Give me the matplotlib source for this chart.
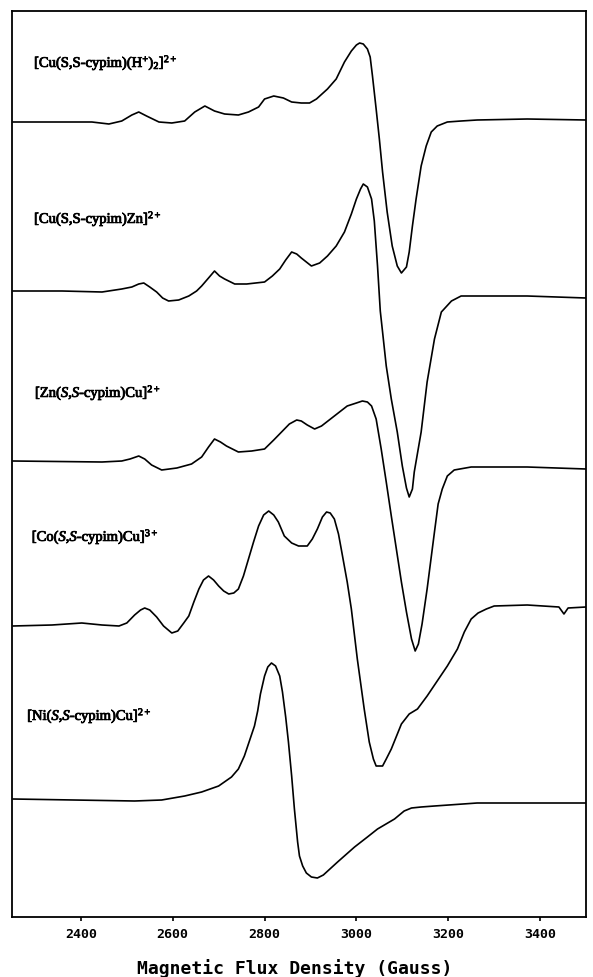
import matplotlib
matplotlib.use("Agg")
import matplotlib.pyplot as plt
import matplotlib.patheffects as pe

plt.rcParams['mathtext.fontset'] = 'custom'
plt.rcParams['mathtext.rm'] = 'Liberation Serif'
plt.rcParams['mathtext.it'] = 'Liberation Serif:italic'
plt.rcParams['mathtext.bf'] = 'Liberation Serif:bold'

# ---- data (field in Gauss, derivative signal in arbitrary units relative to baseline) ----
names = [
    r"[Cu(S,S-cypim)(H$^{+}$)$_{2}$]$^{2+}$",
    r"[Cu(S,S-cypim)Zn]$^{2+}$",
    r"[Zn($\mathit{S}$,$\mathit{S}$-cypim)Cu]$^{2+}$",
    r"[Co($\mathit{S}$,$\mathit{S}$-cypim)Cu]$^{3+}$",
    r"[Ni($\mathit{S}$,$\mathit{S}$-cypim)Cu]$^{2+}$",
]
offsets = [795, 626, 456, 291, 118]
label_field = [2298, 2298, 2300, 2293, 2283]
label_level = [854, 698, 524, 380, 201]

field1 = [2252, 2359, 2424, 2461, 2489, 2511, 2526, 2543, 2570, 2598, 2626, 2648,
          2670, 2691, 2713, 2743, 2765, 2787, 2800, 2820, 2841, 2859, 2880, 2898,
          2913, 2937, 2956, 2974, 2989, 3000, 3007, 3015, 3024, 3030, 3035, 3043,
          3050, 3057, 3067, 3078, 3089, 3098, 3109, 3115, 3122, 3130, 3141, 3152,
          3163, 3176, 3198, 3228, 3263, 3372, 3500]
signal1 = [0, 0, 0, -2, 1, 7, 10, 6, 0, -1, 1, 10,
           16, 11, 8, 7, 10, 15, 23, 26, 24, 20, 19, 19,
           23, 33, 43, 60, 71, 77, 79, 78, 73, 65, 46, 13,
           -17, -50, -90, -124, -144, -151, -145, -130, -104, -77, -44, -24,
           -10, -4, 0, 1, 2, 3, 2]

field2 = [2252, 2359, 2446, 2489, 2511, 2526, 2537, 2550, 2565, 2578, 2591, 2613,
          2635, 2652, 2663, 2678, 2691, 2702, 2713, 2735, 2761, 2800, 2817, 2833,
          2846, 2859, 2870, 2880, 2891, 2902, 2920, 2937, 2956, 2974, 2989, 3000,
          3009, 3015, 3024, 3033, 3039, 3046, 3052, 3057, 3065, 3076, 3089, 3100,
          3109, 3115, 3122, 3126, 3141, 3154, 3170, 3185, 3207, 3228, 3372, 3500]
signal2 = [0, 0, -1, 2, 4, 7, 8, 4, -1, -7, -10, -9,
           -5, 0, 5, 13, 20, 15, 12, 7, 7, 9, 15, 22,
           31, 39, 37, 33, 29, 25, 28, 35, 45, 59, 77, 92,
           102, 107, 104, 92, 70, 25, -20, -41, -75, -108, -141, -175,
           -197, -206, -198, -181, -141, -91, -48, -21, -10, -5, -5, -7]

field3 = [2252, 2446, 2489, 2507, 2526, 2539, 2554, 2576, 2609, 2641, 2663, 2678,
          2691, 2704, 2717, 2743, 2772, 2800, 2820, 2837, 2854, 2870, 2880, 2893,
          2909, 2924, 2952, 2980, 3000, 3013, 3024, 3033, 3043, 3054, 3065, 3076,
          3087, 3098, 3109, 3120, 3128, 3135, 3143, 3154, 3170, 3178, 3187, 3198,
          3213, 3250, 3372, 3500]
signal3 = [0, -1, 0, 2, 5, 2, -4, -9, -7, -3, 4, 14,
           22, 19, 15, 9, 10, 12, 21, 29, 37, 41, 40, 36,
           32, 35, 45, 55, 58, 60, 59, 55, 42, 12, -21, -55,
           -88, -121, -151, -178, -190, -183, -163, -128, -71, -43, -28, -15,
           -9, -6, -6, -8]

field4 = [2252, 2337, 2402, 2446, 2483, 2500, 2517, 2530, 2539, 2550, 2565, 2580,
          2598, 2611, 2624, 2635, 2646, 2657, 2667, 2678, 2689, 2700, 2711, 2722,
          2733, 2743, 2754, 2765, 2776, 2787, 2798, 2809, 2820, 2830, 2843, 2859,
          2874, 2893, 2904, 2915, 2926, 2935, 2943, 2952, 2961, 2967, 2980, 2989,
          3002, 3017, 3028, 3037, 3043, 3057, 3065, 3076, 3098, 3115, 3133, 3154,
          3176, 3198, 3220, 3235, 3250, 3265, 3283, 3300, 3372, 3441, 3452, 3461,
          3500]
signal4 = [0, 1, 3, 1, 0, 3, 11, 16, 18, 16, 9, 0,
           -7, -5, 3, 10, 24, 37, 46, 50, 46, 40, 35, 32,
           33, 37, 50, 67, 84, 100, 111, 115, 111, 104, 90, 83,
           80, 80, 87, 97, 109, 114, 113, 107, 92, 77, 44, 17,
           -33, -83, -116, -133, -140, -140, -133, -123, -98, -88, -83, -70,
           -55, -40, -23, -6, 7, 13, 17, 20, 21, 19, 12, 18,
           19]

field5 = [2252, 2517, 2576, 2626, 2663, 2700, 2728, 2743, 2756, 2767, 2778, 2785,
          2791, 2800, 2807, 2815, 2824, 2833, 2839, 2846, 2852, 2859, 2865, 2872,
          2876, 2883, 2891, 2902, 2915, 2928, 2959, 2996, 3024, 3046, 3083, 3104,
          3120, 3141, 3170, 3263, 3500]
signal5 = [0, -2, -1, 3, 7, 13, 22, 30, 43, 58, 73, 88,
           105, 123, 132, 136, 133, 123, 107, 82, 57, 23, -10, -43,
           -57, -67, -74, -78, -79, -76, -63, -48, -38, -30, -20, -12,
           -9, -8, -7, -4, -4]

fields = [field1, field2, field3, field4, field5]
signals = [signal1, signal2, signal3, signal4, signal5]

xticks = [2400, 2600, 2800, 3000, 3200, 3400]
xlabel = "Magnetic Flux Density (Gauss)"

# ---- figure ----
fig = plt.figure(figsize=(5.93, 9.78), dpi=100)
ax = fig.add_axes([12/593, 60/978, 574/593, 906/978])

for f, s, off in zip(fields, signals, offsets):
    ax.plot(f, [v + off for v in s], color='black', lw=1.2,
            solid_joinstyle='round', solid_capstyle='round')

for name, lx, ly in zip(names, label_field, label_level):
    ax.text(lx, ly, name, fontsize=10.5, family='Liberation Serif',
            ha='left', va='center', color='black',
            path_effects=[pe.withStroke(linewidth=0.6, foreground='black')])

ax.set_xlim(2250, 3500)
ax.set_ylim(0, 906)
ax.set_yticks([])
ax.set_xticks(xticks)
ax.set_xticklabels([str(t) for t in xticks], fontsize=9.5, fontweight='bold',
                   family='DejaVu Sans Mono')
ax.tick_params(axis='x', direction='out', length=3, width=1.2, pad=4.5)
for sp in ax.spines.values():
    sp.set_linewidth(1.3)

fig.text(0.497, 0.0102, xlabel, ha='center', va='center', fontsize=13,
         fontweight='bold', family='DejaVu Sans Mono')

fig.savefig('out.png', dpi=100, facecolor='white')
